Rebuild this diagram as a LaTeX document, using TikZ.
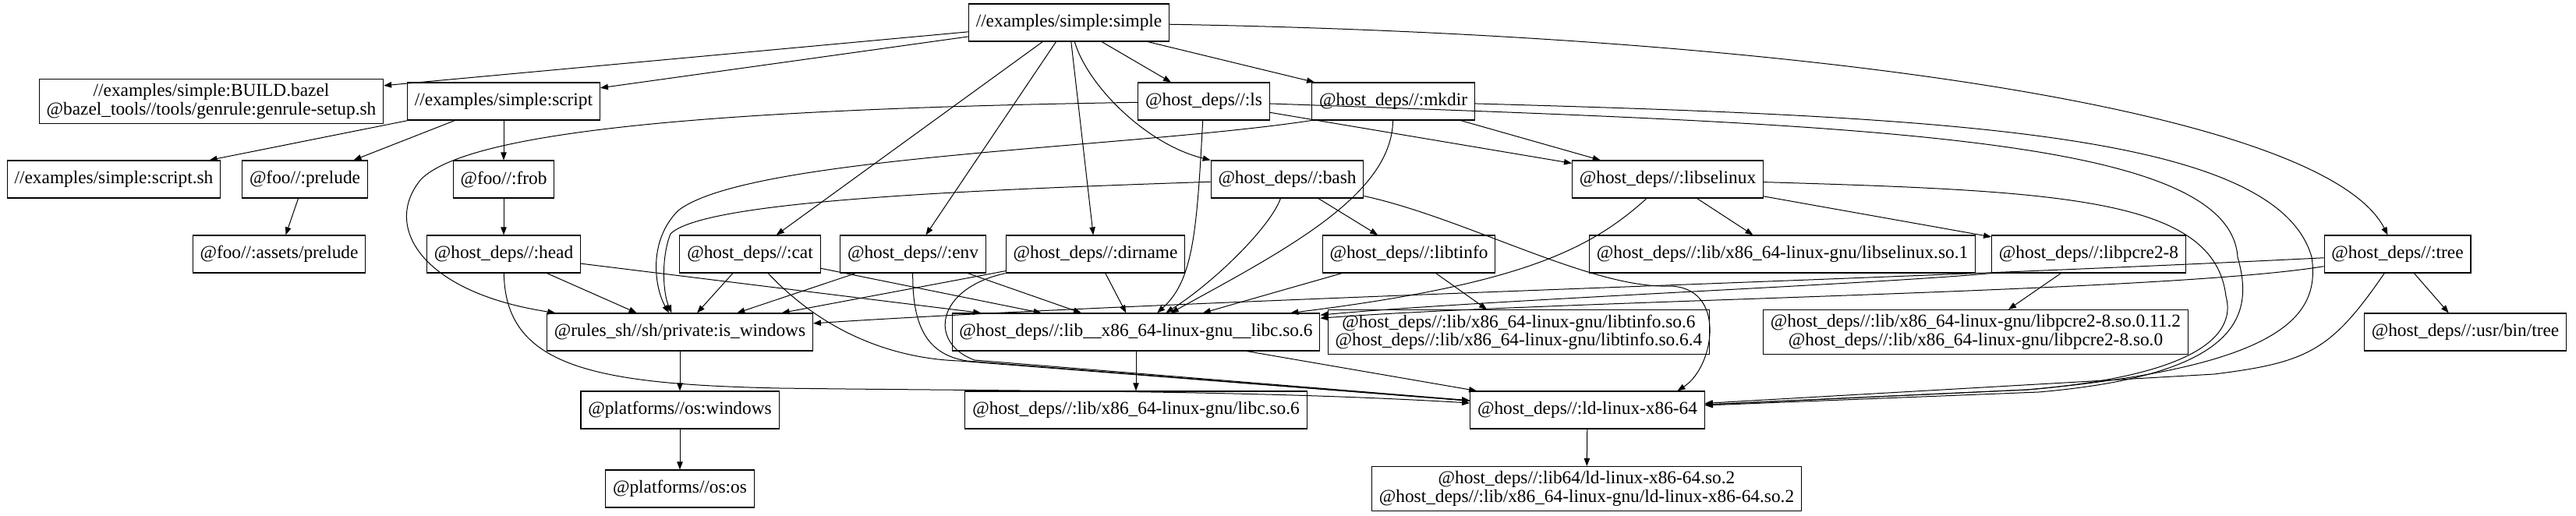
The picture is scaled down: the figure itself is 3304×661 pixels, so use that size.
\documentclass[tikz,border=0pt]{standalone}
\usepackage{fontspec}
\setmainfont{Liberation Serif}
\usetikzlibrary{arrows.meta}
\newcommand{\hostdeps}{@host\_deps//:}
\tikzset{
  box/.style={draw,line width=0.8pt,align=center,font=\fontsize{17.5}{17.5}\selectfont,minimum height=36pt,inner xsep=7pt,inner ysep=2pt},
  box2/.style={box,minimum height=42.75pt},
  dep/.style={-{Triangle[length=7.5pt,width=5.5pt]},line width=0.75pt},
}
\begin{document}
\begin{tikzpicture}[x=0.75pt,y=0.75pt]
  \useasboundingbox (0,0) rectangle (3304,-661);
  % rows of targets, top to bottom
  \node[box] (simple) at (1371,-29) {//examples/simple:simple};
  \node[box2] (build) at (271,-130) {//examples/simple:BUILD.bazel\\@bazel\_tools//tools/genrule:genrule-setup.sh};
  \node[box] (script) at (646,-130) {//examples/simple:script};
  \node[box] (ls) at (1544,-130) {\hostdeps ls};
  \node[box] (mkdir) at (1787,-130) {\hostdeps mkdir};
  \node[box] (scriptsh) at (146,-230) {//examples/simple:script.sh};
  \node[box] (prelude) at (391,-230) {@foo//:prelude};
  \node[box] (frob) at (646,-230) {@foo//:frob};
  \node[box] (bash) at (1651,-230) {\hostdeps bash};
  \node[box] (libselinux) at (2139,-230) {\hostdeps libselinux};
  \node[box] (assets) at (358,-326) {@foo//:assets/prelude};
  \node[box] (head) at (646,-326) {\hostdeps head};
  \node[box] (cat) at (962,-326) {\hostdeps cat};
  \node[box] (env) at (1171,-326) {\hostdeps env};
  \node[box] (dirname) at (1405,-326) {\hostdeps dirname};
  \node[box] (libtinfo) at (1807,-326) {\hostdeps libtinfo};
  \node[box] (selinuxso) at (2286,-326) {\hostdeps lib/x86\_64-linux-gnu/libselinux.so.1};
  \node[box] (libpcre) at (2679,-326) {\hostdeps libpcre2-8};
  \node[box] (tree) at (3075,-326) {\hostdeps tree};
  \node[box] (iswin) at (872,-426) {@rules\_sh//sh/private:is\_windows};
  \node[box] (libcso) at (1457,-426) {\hostdeps lib\_\_x86\_64-linux-gnu\_\_libc.so.6};
  \node[box2] (tinfoso) at (1948,-426) {\hostdeps lib/x86\_64-linux-gnu/libtinfo.so.6\\\hostdeps lib/x86\_64-linux-gnu/libtinfo.so.6.4};
  \node[box2] (pcreso) at (2534,-426) {\hostdeps lib/x86\_64-linux-gnu/libpcre2-8.so.0.11.2\\\hostdeps lib/x86\_64-linux-gnu/libpcre2-8.so.0};
  \node[box] (usrtree) at (3162,-426) {\hostdeps usr/bin/tree};
  \node[box] (windows) at (872,-526) {@platforms//os:windows};
  \node[box] (libc6) at (1457,-526) {\hostdeps lib/x86\_64-linux-gnu/libc.so.6};
  \node[box] (ld) at (2036,-526) {\hostdeps ld-linux-x86-64};
  \node[box] (os) at (872,-627) {@platforms//os:os};
  \node[box2] (ldso) at (2035,-627) {\hostdeps lib64/ld-linux-x86-64.so.2\\\hostdeps lib/x86\_64-linux-gnu/ld-linux-x86-64.so.2};

  % straight dependencies
  \foreach \a/\b in {simple/build,simple/script,simple/ls,simple/mkdir,simple/cat,simple/env,simple/dirname,
    script/scriptsh,script/prelude,script/frob,prelude/assets,frob/head,
    head/iswin,head/libcso,cat/iswin,cat/libcso,env/iswin,env/libcso,dirname/iswin,dirname/libcso,
    ls/libselinux,mkdir/libselinux,bash/libtinfo,libselinux/selinuxso,libselinux/libpcre,
    libtinfo/libcso,libtinfo/tinfoso,libpcre/pcreso,tree/usrtree,
    libcso/libc6,libcso/ld,ld/ldso,iswin/windows,windows/os}
    \draw[dep] (\a) -- (\b);

  % curved ones
  \draw[dep] (simple) .. controls (1395,-110) and (1470,-185) .. (bash.north west);
  \draw[dep] (simple) .. controls (2300,-45) and (2980,-140) .. (tree);
  \draw[dep] (ls) .. controls (900,-140) and (600,-170) .. (540,-230) .. controls (490,-290) and (540,-375) .. (iswin);
  \draw[dep] (ls) .. controls (1535,-300) and (1530,-360) .. (libcso);
  \draw[dep] (ls) .. controls (2400,-160) and (2860,-175) .. (2870,-330) .. controls (2890,-400) and (2880,-480) .. (2615,-503) -- (ld);
  \draw[dep] (mkdir.south west) .. controls (1450,-190) and (960,-200) .. (870,-270) .. controls (830,-310) and (840,-370) .. (iswin);
  \draw[dep] (mkdir) .. controls (1785,-250) and (1650,-320) .. (libcso);
  \draw[dep] (mkdir) .. controls (2500,-150) and (2920,-170) .. (2965,-330) .. controls (2975,-400) and (2940,-470) .. (2600,-500) -- (ld);
  \draw[dep] (bash) .. controls (1200,-245) and (900,-260) .. (860,-300) .. controls (848,-330) and (850,-375) .. (iswin);
  \draw[dep] (bash) .. controls (1630,-290) and (1560,-360) .. (libcso);
  \draw[dep] (bash) .. controls (1880,-280) and (2040,-370) .. (2140,-367) .. controls (2215,-367) and (2200,-470) .. (ld.12);
  \draw[dep] (head) .. controls (648,-470) and (760,-493) .. (1000,-498) .. controls (1300,-502) and (1600,-500) .. (ld);
  \draw[dep] (cat) .. controls (1060,-430) and (1150,-460) .. (1230,-463) -- (ld);
  \draw[dep] (env) .. controls (1170,-420) and (1190,-455) .. (1240,-463) -- (ld);
  \draw[dep] (dirname.south west) .. controls (1200,-370) and (1190,-440) .. (1250,-462) -- (ld);
  \draw[dep] (libselinux) .. controls (2040,-320) and (1950,-365) .. (libcso);
  \draw[dep] (libselinux) .. controls (2650,-245) and (2840,-255) .. (2855,-380) .. controls (2866,-420) and (2840,-480) .. (2600,-500) -- (ld);
  \draw[dep] (libpcre.south west) .. controls (2400,-365) and (1900,-385) .. (libcso);
  \draw[dep] (tree) .. controls (2780,-375) and (2000,-385) .. (libcso);
  \draw[dep] (tree) .. controls (2400,-360) and (1500,-385) .. (iswin);
  \draw[dep] (tree) .. controls (2990,-450) and (2960,-465) .. (2840,-480) -- (ld);
\end{tikzpicture}
\end{document}
